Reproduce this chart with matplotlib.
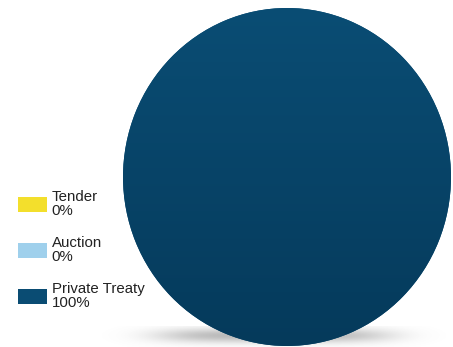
import matplotlib.pyplot as plt
import numpy as np
from matplotlib.colors import LinearSegmentedColormap

plt.rcParams["font.family"] = ["Liberation Sans", "DejaVu Sans"]

methods = ["Tender", "Auction", "Private Treaty"]
shares = [0, 0, 100]
colors = ["#f3df2c", "#9fd0ec", "#0a4c73"]

W, H = 453, 347
fig = plt.figure(figsize=(W / 100, H / 100), dpi=100)


def px_axes(x, y, w, h):
    # pixel box measured from the top-left corner
    return fig.add_axes([x / W, 1 - (y + h) / H, w / W, h / H])


# soft floor shadow under the pie
sh = px_axes(95, 326, 358, 21)
sh.set_axis_off()
u = np.linspace(-1, 1, 400)
v = np.linspace(0, 1, 60)
U, V = np.meshgrid(u, v)
alpha = 0.5 * np.exp(-(U / 0.65) ** 4) * np.exp(-((V - 0.55) / 0.35) ** 2)
rgba = np.zeros(U.shape + (4,))
rgba[..., :3] = 0.45
rgba[..., 3] = np.clip(alpha, 0, 1)
sh.imshow(rgba, extent=(-1, 1, 0, 1), aspect="auto", origin="lower")

ax = px_axes(123, 8, 328, 338)
ax.set_zorder(2)
wedges, _ = ax.pie(shares, colors=colors, startangle=90, counterclock=False,
                   radius=1.0, wedgeprops={"linewidth": 0})

# slight top-to-bottom shading on the filled wedge
cmap = LinearSegmentedColormap.from_list("shade", ["#053a5b", "#0a4d74"])
grad = np.linspace(0, 1, 256).reshape(-1, 1)
im = ax.imshow(grad, cmap=cmap, extent=(-1, 1, -1, 1), origin="lower",
               aspect="auto", zorder=3)
im.set_clip_path(wedges[2])
ax.set_xlim(-1.0, 1.0)
ax.set_ylim(-1.0, 1.0)

labels = [f"{m}\n{s}%" for m, s in zip(methods, shares)]
fig.legend(wedges, labels, loc="upper left", bbox_to_anchor=(18 / W, 1 - 190 / H),
           frameon=False, fontsize=10.8, handlelength=1.9, handleheight=1.25,
           handletextpad=0.35, labelspacing=1.2, borderpad=0, borderaxespad=0)
for t in fig.legends[0].get_texts():
    t.set_linespacing(1.0)
    t.set_color("#222222")

fig.savefig("out.png", dpi=100)
